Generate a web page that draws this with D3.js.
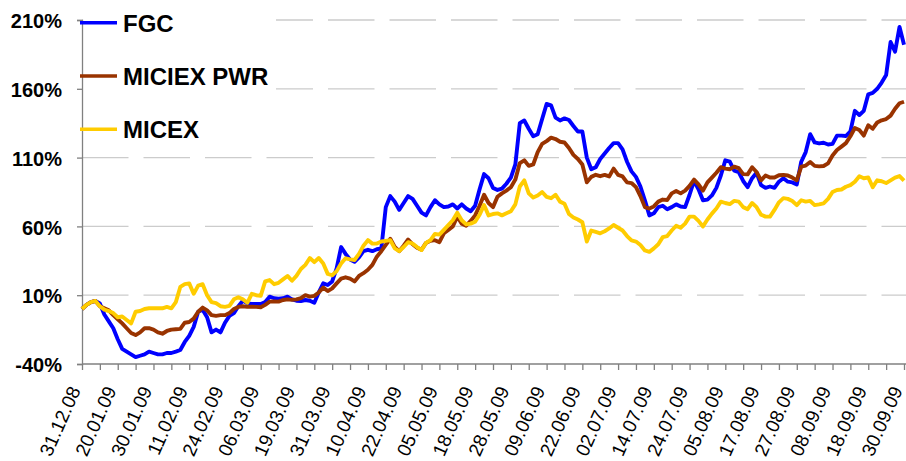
<!DOCTYPE html>
<html>
<head>
<meta charset="utf-8">
<script src="https://cdn.jsdelivr.net/npm/d3@7"></script>
<style>
html,body{margin:0;padding:0;background:#fff;}
svg{display:block;}
</style>
</head>
<body>
<svg id="chart" width="906" height="461"></svg>
<script>
const seriesNames = ["FGC", "MICIEX PWR", "MICEX"];
const seriesColors = ["#0000FF", "#993300", "#FFCC00"];

const dateLabels = ["31.12.08","20.01.09","30.01.09","11.02.09","24.02.09","06.03.09","19.03.09","31.03.09","10.04.09","22.04.09","05.05.09","18.05.09","28.05.09","09.06.09","22.06.09","02.07.09","14.07.09","24.07.09","05.08.09","17.08.09","27.08.09","08.09.09","18.09.09","30.09.09"];

const yTicks = [-40, 10, 60, 110, 160, 210];

const fgc = [
0, 3, 5, 5.8, 4, -4, -9, -14, -22, -29,
-31, -33, -35, -34, -33, -31, -32, -33, -33, -32,
-32, -31, -29.8, -24, -19.5, -13, -2, -0.5, -6, -17,
-15, -17, -10, -5, -3, 2, 6, 4, 3.6, 3.6,
3.6, 5, 8.9, 7.8, 7.5, 7.8, 8.9, 7, 6, 5.8,
6.5, 6, 4.5, 12, 18.6, 17.4, 20, 29.5, 45, 40,
36, 34.3, 37.5, 42, 43, 42, 43.4, 44, 74, 82,
78, 72, 77, 82, 80, 75, 70, 68, 74, 79,
76, 74, 74.5, 76, 73, 76, 73, 71, 75, 87,
98, 95, 88, 86.5, 87.5, 91, 95.5, 105, 135, 137,
131, 125.5, 127, 138, 149, 148, 139, 137, 138.5, 137.3,
133, 129, 129, 110, 101.5, 103, 109, 113, 117, 120.5,
120.5, 116, 107, 100, 96, 89, 79, 68, 69.5, 74,
75, 72.5, 74, 76, 74.5, 74, 83, 93, 87, 79,
79.5, 82.5, 88, 97, 108, 107, 100.5, 99.5, 93, 88.5,
95, 99, 90, 88, 89, 88, 92.5, 95, 92.5, 92,
90.5, 107, 114, 127, 121, 120.3, 120.8, 119.5, 120, 126,
126, 125.7, 129, 144, 141, 144, 156, 157, 160, 164.5,
170, 194, 187, 205, 192
];

const micexPwr = [
0, 3, 5, 5.8, 2, 0.5, -1, -4.5, -7.5, -10.5,
-14, -17.5, -19, -17, -14, -14, -15, -17, -18, -16,
-15, -14.7, -14.5, -10, -9.5, -7, -2, 1, -1, -4.5,
-5, -4.5, -4.5, -3, 0, 1.5, 2, 1.5, 1.7, 1.5,
1.2, 3, 5.3, 5.5, 5.3, 6.5, 7, 6.6, 7, 7.8,
10, 9, 9.5, 12, 15.5, 13, 15, 18.6, 22, 23,
22, 20, 24, 26, 28.5, 32, 38, 42, 46.5, 51,
45, 42, 46, 50.5, 47, 44.5, 43, 48, 49.5, 50,
48.5, 55, 57.5, 60, 67, 62, 60.5, 64, 68, 75,
83, 77, 74, 81.5, 84, 86, 88.5, 94, 106, 108,
104, 105, 114, 120, 122, 124.5, 123.5, 121.5, 121, 117,
112, 109, 105, 92, 96, 97.5, 96.5, 97.4, 96.3, 102,
97.5, 96.3, 92, 91.5, 88.5, 82, 74, 73, 74.5, 78,
79.5, 79.2, 84, 85.7, 84, 86, 89.5, 94, 90.5, 86,
92, 95.5, 99, 103, 102, 101.5, 103.4, 102.3, 98, 97.8,
103, 99.5, 93.5, 97, 95.5, 95.5, 97.2, 97.4, 97, 95.5,
93.5, 103.5, 104.2, 106.8, 104, 103.6, 103.9, 105.8, 111.5, 115.5,
118, 120.5, 125.5, 131.5, 130, 126, 133.5, 131, 135.5, 137.1,
138, 140.5, 145.5, 149.5, 150.6
];

const micex = [
0, 3, 5, 5.8, 2, -0.5, -1.5, -3, -6, -5.5,
-8, -10.5, -2, -1.5, 0, 0.5, 0.5, 0.5, 0.5, 1.5,
0.5, 5, 16, 18, 18.6, 11, 17, 18, 10, 5,
4.2, 2, 1.5, 2.2, 7, 8.5, 7, 4.5, 11, 10,
9.5, 20, 21, 18, 19, 21.5, 24, 20.5, 24, 29,
32, 37, 34, 37, 33, 25.5, 24.5, 27.5, 33, 36.8,
36, 35.6, 40, 46, 50, 47.5, 47.5, 49, 49.5, 50,
44, 42, 45, 48.5, 47.5, 45, 42.8, 48, 50, 54.5,
54, 57.5, 61, 64.5, 70, 64.5, 61.5, 62, 63.4, 68.5,
75.5, 68, 69, 69.5, 68, 69.5, 71, 76, 89, 93.5,
84, 81, 82.5, 85, 81.5, 80.5, 83, 78, 76.5, 69,
66.5, 65, 63, 49, 57, 56, 55, 56.5, 58.5, 61,
59, 57, 53, 49.8, 49, 46.5, 42.5, 41.5, 44, 47,
52.2, 53, 57, 60.5, 59, 62, 67.1, 67.1, 64, 60,
65, 69.3, 73, 78, 77, 76.2, 78.5, 78, 74, 72.5,
77, 74, 68.5, 67.1, 67.1, 72, 77.5, 80.5, 80, 78.5,
75.5, 79, 78, 78.5, 75.5, 76, 76.8, 80, 85, 86.5,
86.8, 88.8, 90, 92.5, 96.5, 95, 95.5, 88.5, 93.5, 92.8,
91.5, 93.5, 95.5, 96.6, 93.2
];

const allSeries = [fgc, micexPwr, micex];
const pointsPerLabel = 8;
const pointsPerTick = 4;

const svg = d3.select("#chart");
const W = 906, H = 461;
const plotLeft = 82, plotRight = 904, plotTop = 20, plotBottom = 364;

const idx = d3.range(fgc.length);
const x = d3.scalePoint().domain(idx).range([plotLeft, plotRight]);
const y = d3.scaleLinear().domain([-40, 210]).range([plotBottom, plotTop]);

// gridlines
svg.append("g").selectAll("line")
  .data(yTicks.filter(t => t !== -40))
  .join("line")
  .attr("x1", plotLeft).attr("x2", W)
  .attr("y1", d => y(d)).attr("y2", d => y(d))
  .attr("stroke", "#cccccc").attr("stroke-width", 1.3)
  .attr("stroke-dasharray", "46.5,15");

// legend background
svg.append("rect").attr("x", plotLeft + 1).attr("y", 0).attr("width", 193).attr("height", 146).attr("fill", "#fff");

// y axis
const yAxis = d3.axisLeft(y).tickValues(yTicks).tickSize(5).tickPadding(15).tickFormat(d => d + "%");
const gy = svg.append("g").attr("transform", `translate(${plotLeft},0)`).call(yAxis);
gy.select(".domain").attr("stroke", "#808080").attr("stroke-width", 1.3);
gy.selectAll(".tick line").attr("stroke", "#808080").attr("stroke-width", 1.3);
gy.selectAll(".tick text")
  .attr("font-family", "'Liberation Sans', Arial, sans-serif")
  .attr("font-weight", "bold").attr("font-size", 20).attr("fill", "#000")
  .attr("dy", "0.38em");

// x axis
const tickIdx = idx.filter(i => i % pointsPerTick === 0);
const xAxis = d3.axisBottom(x).tickValues(tickIdx).tickSize(6).tickFormat("");
const gx = svg.append("g").attr("transform", `translate(0,${plotBottom})`).call(xAxis);
gx.select(".domain").attr("stroke", "#808080").attr("stroke-width", 1.3).attr("d", `M${plotLeft},0H${W}`);
gx.selectAll(".tick line").attr("stroke", "#808080").attr("stroke-width", 1.3);

// x labels
svg.append("g").selectAll("text")
  .data(dateLabels)
  .join("text")
  .attr("transform", (d, k) => `translate(${x(k * pointsPerLabel) - 1},390) rotate(-66)`)
  .attr("text-anchor", "end")
  .attr("font-family", "'Liberation Sans', Arial, sans-serif")
  .attr("font-size", 19).attr("fill", "#000")
  .text(d => d);

// lines
const line = d3.line().x((d, i) => x(i)).y(d => y(d));
svg.append("g").selectAll("path")
  .data(allSeries)
  .join("path")
  .attr("d", d => line(d))
  .attr("fill", "none")
  .attr("stroke", (d, i) => seriesColors[i])
  .attr("stroke-width", 3.9)
  .attr("stroke-linejoin", "round");

// legend
const legY = [22.7, 76, 129.3];
const leg = svg.append("g").selectAll("g").data(seriesNames).join("g")
  .attr("transform", (d, i) => `translate(0,${legY[i]})`);
leg.append("line").attr("x1", 80).attr("x2", 117).attr("y1", 0).attr("y2", 0)
  .attr("stroke", (d, i) => seriesColors[i]).attr("stroke-width", 3.5);
leg.append("text").attr("x", 123).attr("y", 9)
  .attr("font-family", "'Liberation Sans', Arial, sans-serif")
  .attr("font-weight", "bold").attr("font-size", 24).attr("fill", "#000")
  .text(d => d);
</script>
</body>
</html>
